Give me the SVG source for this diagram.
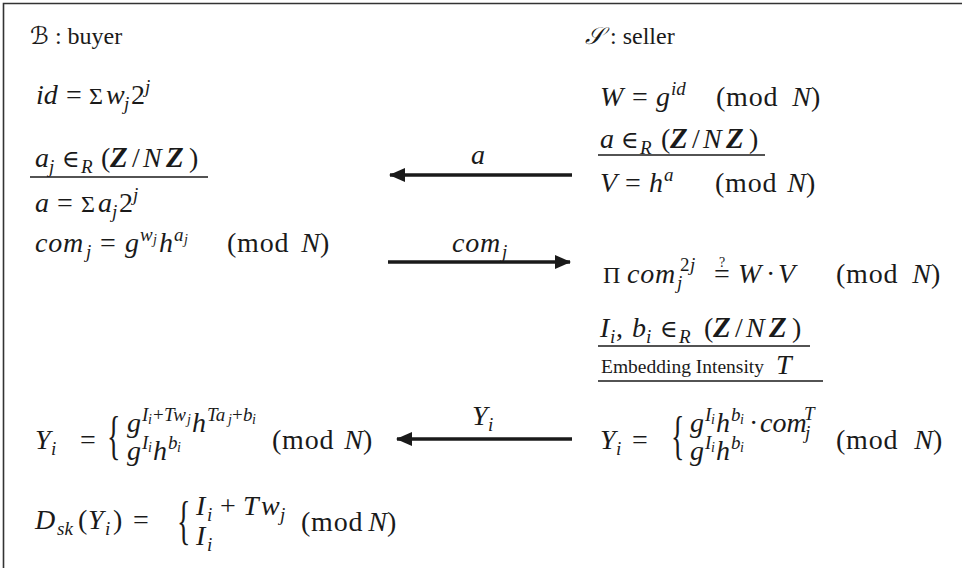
<svg xmlns="http://www.w3.org/2000/svg" width="962" height="568" viewBox="0 0 962 568">
<defs>
<style>
text{font-family:"Liberation Serif","DejaVu Serif",serif;font-size:28px;fill:#1a1a1a}
.i{font-style:italic}
.s{font-size:19px}
.ss{font-size:14px}
.hd{font-size:24px}
.emb{font-size:19.5px}
.sg{font-size:24px}
.z{font-family:"Liberation Serif",serif;font-weight:bold;font-style:italic;font-size:29px}
.el{font-family:"DejaVu Serif",serif;font-size:24px}
.scr{font-family:"DejaVu Serif","DejaVu Sans",serif;font-style:italic}
.mod{letter-spacing:0.8px}
.ul{stroke:#1a1a1a;stroke-width:1.3}
.arr{stroke:#1a1a1a;stroke-width:3.6;fill:none}
</style>
<marker id="ah" viewBox="0 0 16 14" refX="15" refY="7" markerWidth="16" markerHeight="14" markerUnits="userSpaceOnUse" orient="auto">
<path d="M0,0 L16,7 L0,14 Z" fill="#1a1a1a"/>
</marker>
</defs>
<rect width="962" height="568" fill="#fff"/>
<path d="M3.5,568 V3.5 H962" fill="none" stroke="#333" stroke-width="1.6"/>

<g id="buyer">
<text class="hd" x="30" y="44"><tspan class="scr">ℬ</tspan> : buyer</text>
<text><tspan class="i" x="36" y="104">id</tspan><tspan x="66" y="104">=</tspan><tspan class="sg" x="89" y="104">Σ</tspan><tspan class="i" x="106" y="104">w</tspan><tspan class="i s" x="124" y="110">j</tspan><tspan x="131" y="104">2</tspan><tspan class="i s" x="145" y="93">j</tspan></text>
<text><tspan class="i" x="35" y="167">a</tspan><tspan class="i s" x="49" y="173">j</tspan><tspan class="el" x="62" y="167">∈</tspan><tspan class="i s" x="81" y="173">R</tspan><tspan x="101" y="167">(</tspan><tspan class="z" x="110" y="167">Z</tspan><tspan x="132" y="167">/</tspan><tspan class="i" x="143" y="167">N</tspan><tspan class="z" x="166" y="167">Z</tspan><tspan x="189" y="167">)</tspan></text>
<line class="ul" x1="30" y1="177" x2="208" y2="177"/>
<text><tspan class="i" x="35" y="212">a</tspan><tspan x="57" y="212">=</tspan><tspan class="sg" x="81" y="212">Σ</tspan><tspan class="i" x="98" y="212">a</tspan><tspan class="i s" x="112" y="218">j</tspan><tspan x="119" y="212">2</tspan><tspan class="i s" x="133" y="201">j</tspan></text>
<text><tspan class="i mod" x="35" y="252">com</tspan><tspan class="i s" x="86" y="258">j</tspan><tspan x="100" y="252">=</tspan><tspan class="i" x="125" y="252">g</tspan><tspan class="i s" x="140" y="241">w</tspan><tspan class="i ss" x="153" y="244">j</tspan><tspan class="i" x="159" y="252">h</tspan><tspan class="i s" x="174" y="241">a</tspan><tspan class="i ss" x="184" y="244">j</tspan></text>
<text x="227" y="252"><tspan class="mod">(mod</tspan><tspan class="i" dx="12">N</tspan>)</text>
</g>

<g id="buyer-y">
<text><tspan class="i" x="35" y="449">Y</tspan><tspan class="i s" x="51" y="455">i</tspan><tspan x="80" y="449">=</tspan></text>
<text transform="translate(107,453) scale(1,1.9)">{</text>
<text><tspan class="i" x="127" y="432">g</tspan><tspan class="i s" x="142" y="421">I</tspan><tspan class="i ss" x="148" y="424">i</tspan><tspan class="s" x="153" y="421">+</tspan><tspan class="i s" x="164" y="421">Tw</tspan><tspan class="i ss" x="187" y="424">j</tspan><tspan class="i" x="192" y="432">h</tspan><tspan class="i s" x="207" y="421">Ta</tspan><tspan class="i ss" x="228" y="424">j</tspan><tspan class="s" x="232" y="421">+</tspan><tspan class="i s" x="243" y="421">b</tspan><tspan class="i ss" x="252" y="424">i</tspan></text>
<text><tspan class="i" x="127" y="460">g</tspan><tspan class="i s" x="142" y="449">I</tspan><tspan class="i ss" x="148" y="452">i</tspan><tspan class="i" x="153" y="460">h</tspan><tspan class="i s" x="168" y="449">b</tspan><tspan class="i ss" x="177" y="452">i</tspan></text>
<text x="272" y="449"><tspan class="mod">(mod</tspan><tspan class="i" dx="10">N</tspan>)</text>
</g>

<g id="buyer-d">
<text><tspan class="i" x="35" y="529">D</tspan><tspan class="i s" x="57" y="535">sk</tspan><tspan x="78" y="529">(</tspan><tspan class="i" x="88" y="529">Y</tspan><tspan class="i s" x="105" y="535">i</tspan><tspan x="113" y="529">)</tspan><tspan x="133" y="529">=</tspan></text>
<text transform="translate(177,538) scale(1,1.9)">{</text>
<text><tspan class="i" x="196" y="515">I</tspan><tspan class="i s" x="207" y="521">i</tspan><tspan x="220" y="515">+</tspan><tspan class="i" x="243" y="515">T</tspan><tspan class="i" x="261" y="515">w</tspan><tspan class="i s" x="280" y="521">j</tspan></text>
<text><tspan class="i" x="196" y="545">I</tspan><tspan class="i s" x="207" y="551">i</tspan></text>
<text x="301" y="531"><tspan class="mod">(mod</tspan><tspan class="i" dx="5">N</tspan>)</text>
</g>

<g id="seller">
<text class="hd" x="585" y="44"><tspan class="scr">𝒮</tspan> : seller</text>
<text><tspan class="i" x="600" y="106">W</tspan><tspan x="632" y="106">=</tspan><tspan class="i" x="656" y="106">g</tspan><tspan class="i s" x="671" y="95">id</tspan></text>
<text x="716" y="106"><tspan class="mod">(mod</tspan><tspan class="i" dx="14">N</tspan>)</text>
<text><tspan class="i" x="600" y="148">a</tspan><tspan class="el" x="621" y="148">∈</tspan><tspan class="i s" x="640" y="154">R</tspan><tspan x="661" y="148">(</tspan><tspan class="z" x="670" y="148">Z</tspan><tspan x="692" y="148">/</tspan><tspan class="i" x="703" y="148">N</tspan><tspan class="z" x="726" y="148">Z</tspan><tspan x="749" y="148">)</tspan></text>
<line class="ul" x1="598" y1="155" x2="765" y2="155"/>
<text><tspan class="i" x="600" y="192">V</tspan><tspan x="625" y="192">=</tspan><tspan class="i" x="649" y="192">h</tspan><tspan class="i s" x="664" y="181">a</tspan></text>
<text x="715" y="192"><tspan class="mod">(mod</tspan><tspan class="i" dx="10">N</tspan>)</text>
</g>

<g id="seller-check">
<text><tspan class="sg" x="603" y="283">Π</tspan><tspan class="i mod" x="627" y="283">com</tspan><tspan class="i s" x="677" y="289">j</tspan><tspan class="s" x="680" y="271">2</tspan><tspan class="i s" x="690" y="271">j</tspan><tspan x="714" y="283">=</tspan><tspan class="i" x="738" y="283">W</tspan><tspan x="766" y="283">·</tspan><tspan class="i" x="778" y="283">V</tspan></text>
<text class="ss" x="719" y="267">?</text>
<text x="836" y="283"><tspan class="mod">(mod</tspan><tspan class="i" dx="14">N</tspan>)</text>
</g>

<g id="seller-gen">
<text><tspan class="i" x="600" y="337">I</tspan><tspan class="i s" x="610" y="343">i</tspan><tspan x="616" y="337">,</tspan><tspan class="i" x="632" y="337">b</tspan><tspan class="i s" x="646" y="343">i</tspan><tspan class="el" x="660" y="337">∈</tspan><tspan class="i s" x="679" y="343">R</tspan><tspan x="704" y="337">(</tspan><tspan class="z" x="713" y="337">Z</tspan><tspan x="735" y="337">/</tspan><tspan class="i" x="746" y="337">N</tspan><tspan class="z" x="769" y="337">Z</tspan><tspan x="792" y="337">)</tspan></text>
<line class="ul" x1="598" y1="346" x2="810" y2="346"/>
<text x="601" y="373" class="emb">Embedding Intensity</text>
<text x="776" y="374" class="i">T</text>
<line class="ul" x1="598" y1="381" x2="823" y2="381"/>
</g>

<g id="seller-y">
<text><tspan class="i" x="600" y="449">Y</tspan><tspan class="i s" x="616" y="455">i</tspan><tspan x="632" y="449">=</tspan></text>
<text transform="translate(671,453) scale(1,1.9)">{</text>
<text><tspan class="i" x="690" y="432">g</tspan><tspan class="i s" x="705" y="421">I</tspan><tspan class="i ss" x="711" y="424">i</tspan><tspan class="i" x="716" y="432">h</tspan><tspan class="i s" x="731" y="421">b</tspan><tspan class="i ss" x="740" y="424">i</tspan><tspan x="749" y="432">·</tspan><tspan class="i" x="760" y="432">com</tspan><tspan class="i s" x="804" y="420">T</tspan><tspan class="i s" x="805" y="439">j</tspan></text>
<text><tspan class="i" x="690" y="460">g</tspan><tspan class="i s" x="705" y="449">I</tspan><tspan class="i ss" x="711" y="452">i</tspan><tspan class="i" x="716" y="460">h</tspan><tspan class="i s" x="731" y="449">b</tspan><tspan class="i ss" x="740" y="452">i</tspan></text>
<text x="836" y="449"><tspan class="mod">(mod</tspan><tspan class="i" dx="16">N</tspan>)</text>
</g>

<g id="connectors">
<line class="arr" x1="572" y1="175" x2="390" y2="175" marker-end="url(#ah)"/>
<text x="471" y="164" class="i">a</text>
<line class="arr" x1="388" y1="262" x2="570" y2="262" marker-end="url(#ah)"/>
<text><tspan class="i mod" x="452" y="252">com</tspan><tspan class="i s" x="502" y="258">j</tspan></text>
<line class="arr" x1="572" y1="439" x2="397" y2="439" marker-end="url(#ah)"/>
<text><tspan class="i" x="472" y="425">Y</tspan><tspan class="i s" x="488" y="431">i</tspan></text>
</g>
</svg>
